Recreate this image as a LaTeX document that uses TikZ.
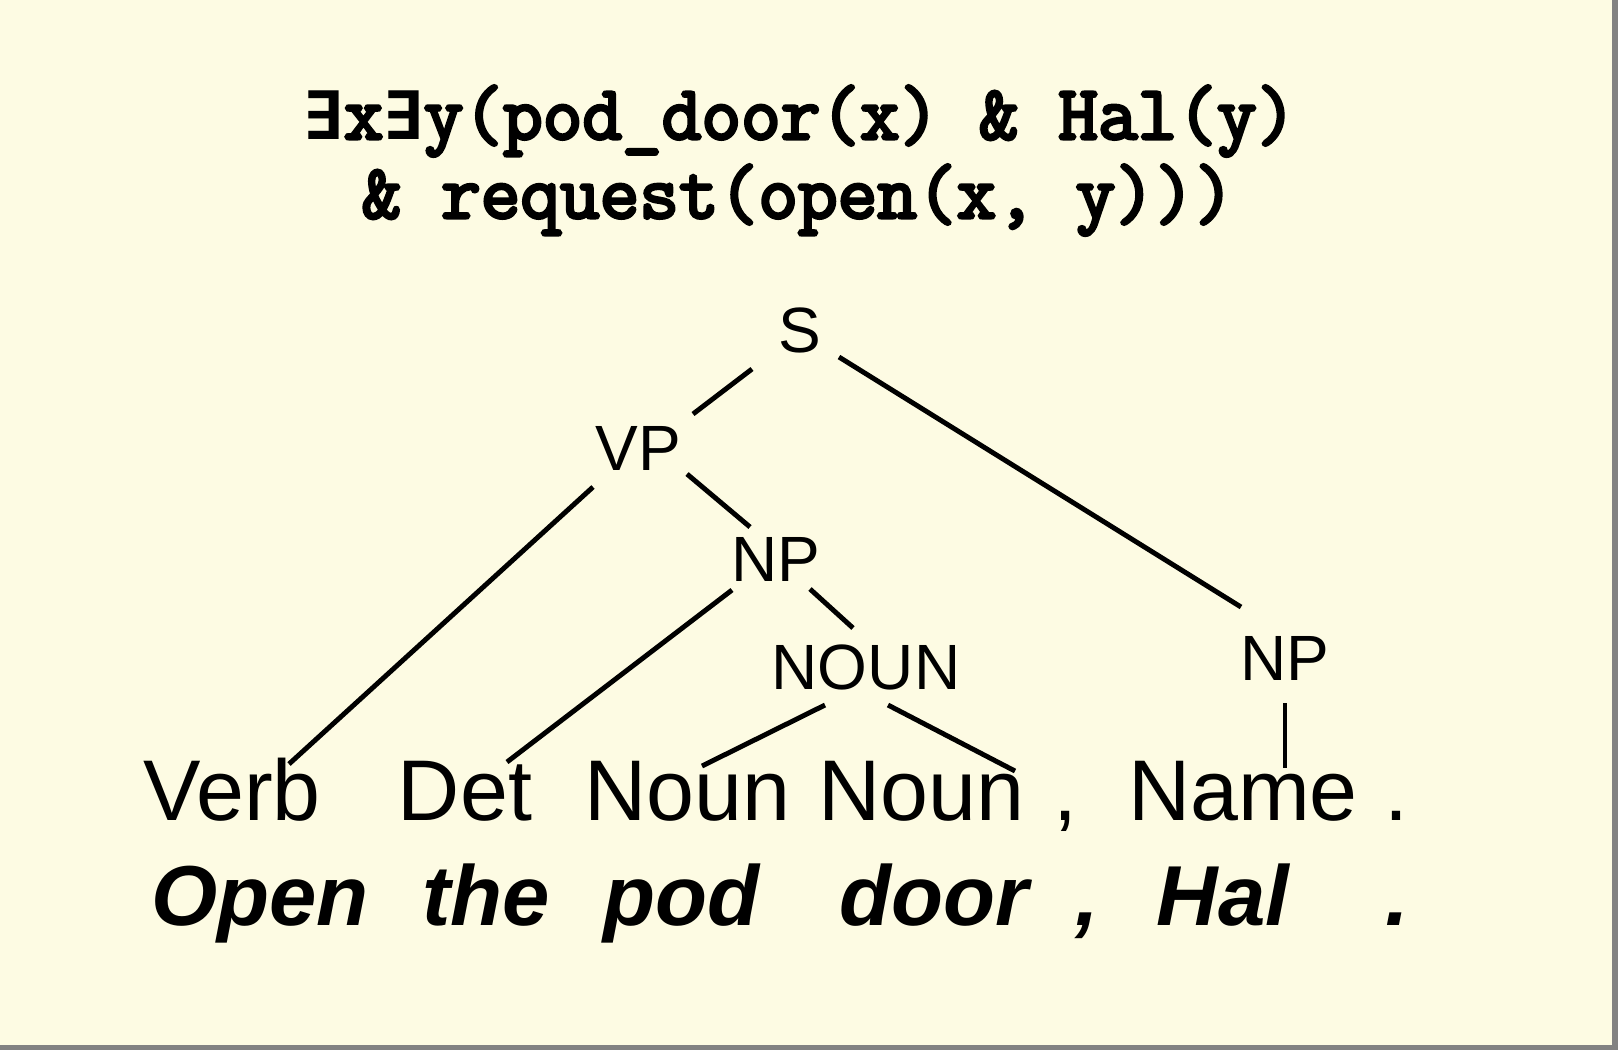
\documentclass[tikz,border=0pt]{standalone}
\usepackage{fontspec}
\usepackage{tikz}
\usetikzlibrary{positioning}
\setmainfont{Liberation Sans}
\newfontfamily\logicfont[FakeBold=4]{Latin Modern Mono}
\newfontfamily\quantfont{DejaVu Sans Mono}
\definecolor{slidebg}{RGB}{253,251,227}
\definecolor{slideshadow}{RGB}{130,130,130}
\newcommand{\qex}{{\quantfont\bfseries\fontsize{19}{20}\selectfont ∃}}

\begin{document}
\begin{tikzpicture}
		[
		x=0.01cm, y=-0.01cm,
		font=\fontsize{18.2}{20}\selectfont
		]
		
		% Node styles: categories, words, glosses, formula
		\tikzstyle{cat node}=[inner sep=0,anchor=base];
		\tikzstyle{word node}=[inner sep=0,anchor=base,font=\fontsize{24.5}{28}\selectfont];
		\tikzstyle{gloss node}=[inner sep=0,anchor=base,font=\fontsize{24.2}{28}\selectfont\bfseries\itshape];
		\tikzstyle{logic node}=[inner sep=0,anchor=base,font=\fontsize{21.9}{24}\selectfont\logicfont];
		\tikzstyle{branch}=[draw,line width=1.4pt];
		
		% The slide
		\fill[slideshadow](0,0)rectangle(1618,1050);
		\fill[slidebg](0,0)rectangle(1612,1045);
		\useasboundingbox(0,0)rectangle(1618,1050);
		
		% Formula
		\node[logic node](f1)at(800,139){\qex x\qex y(pod\_door(x) \& Hal(y)};
		\node[logic node](f2)at(798,218){\& request(open(x, y)))};
		
		% Categories
		\node[cat node](S)at(800,352){S};
		\node[cat node](VP)at(638,470){VP};
		\node[cat node](NP1)at(776,581){NP};
		\node[cat node](NOUN)at(866,689){NOUN};
		\node[cat node](NP2)at(1285,680){NP};
		
		% Words
		\node[word node](Verb)at(232,820){Verb};
		\node[word node](Det)at(465,820){Det};
		\node[word node](Noun1)at(687,820){Noun};
		\node[word node](Noun2)at(921,820){Noun};
		\node[word node](comma)at(1065,820){,};
		\node[word node](Name)at(1243,820){Name};
		\node[word node](stop)at(1396,820){.};
		
		% The sentence
		\node[gloss node](open)at(260,925){Open};
		\node[gloss node](the)at(486,925){the};
		\node[gloss node](pod)at(681,925){pod};
		\node[gloss node](door)at(934,925){door};
		\node[gloss node](gcomma)at(1087,925){,};
		\node[gloss node](hal)at(1223,925){Hal};
		\node[gloss node](gstop)at(1397,925){.};
		
		% Branches
		% S
		\draw[branch]([shift={(-48,17)}]S.base)--([shift={(55,-56)}]VP.base);
		\draw[branch]([shift={(39,5)}]S.base)--([shift={(-44,-73)}]NP2.base);
		% VP
		\draw[branch]([shift={(-45,17)}]VP.base)--([shift={(57,-56)}]Verb.base);
		\draw[branch]([shift={(49,4)}]VP.base)--([shift={(-26,-54)}]NP1.base);
		% NP
		\draw[branch]([shift={(-44,9)}]NP1.base)--([shift={(42,-58)}]Det.base);
		\draw[branch]([shift={(34,8)}]NP1.base)--([shift={(-13,-61)}]NOUN.base);
		% NOUN
		\draw[branch]([shift={(-41,16)}]NOUN.base)--([shift={(15,-54)}]Noun1.base);
		\draw[branch]([shift={(22,16)}]NOUN.base)--([shift={(94,-49)}]Noun2.base);
		% NP
		\draw[branch]([shift={(0,23)}]NP2.base)--([shift={(42,-52)}]Name.base);
		\end{tikzpicture}
\end{document}
